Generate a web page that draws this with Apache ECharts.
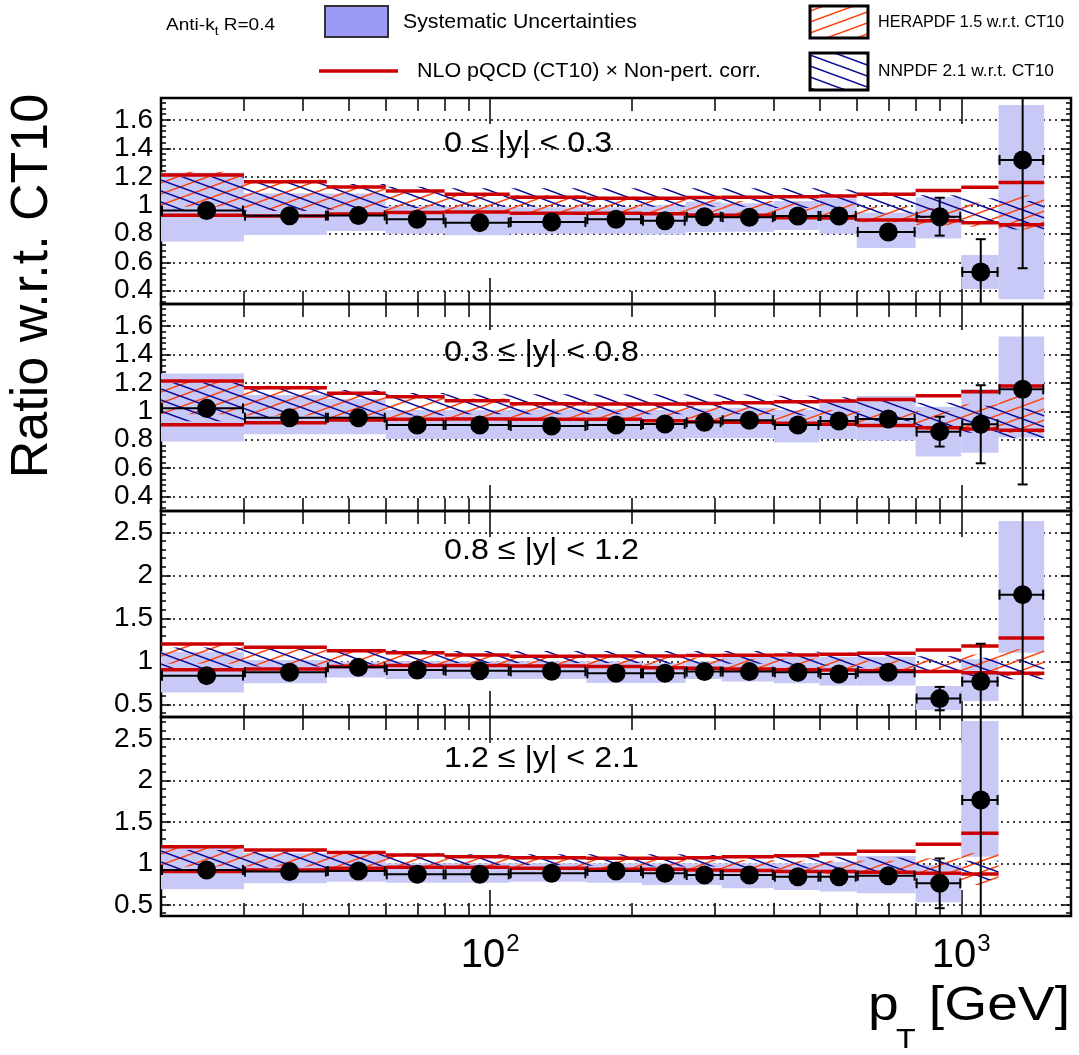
<!DOCTYPE html>
<html><head><meta charset="utf-8">
<script src="https://cdn.jsdelivr.net/npm/echarts@6/dist/echarts.min.js"></script>
<style>html,body{margin:0;padding:0;background:#fff}#c{width:1079px;height:1055px}</style>
</head><body><div id="c"></div>
<script>
// ---------------- DATA ----------------
const binEdges = [20, 30, 45, 60, 80, 110, 160, 210, 260, 310, 400, 500, 600, 800, 1000, 1200, 1500];
const xMajorTicks = [100, 1000];
const xMinorTicks = [20, 30, 40, 50, 60, 70, 80, 90, 200, 300, 400, 500, 600, 700, 800, 900];
const yMajorTicksNarrow = [0.4, 0.6, 0.8, 1, 1.2, 1.4, 1.6];
const yMajorTicksWide = [0.5, 1, 1.5, 2, 2.5];
const panelLabels = ['0 \u2264 |y| < 0.3', '0.3 \u2264 |y| < 0.8', '0.8 \u2264 |y| < 1.2', '1.2 \u2264 |y| < 2.1'];

// Panel 1: 0 <= |y| < 0.3
const ratio1   = [0.963, 0.927, 0.928, 0.902, 0.878, 0.883, 0.902, 0.892, 0.920, 0.916, 0.925, 0.925, 0.813, 0.920, 0.532, 1.318];
const stat1    = [0.010, 0.008, 0.010, 0.010, 0.010, 0.008, 0.008, 0.010, 0.010, 0.010, 0.012, 0.015, 0.020, 0.133, 0.230, 0.760];
const sysLo1   = [0.745, 0.792, 0.820, 0.800, 0.790, 0.800, 0.800, 0.794, 0.810, 0.815, 0.827, 0.800, 0.700, 0.766, 0.413, 0.340];
const sysHi1   = [1.230, 1.085, 1.082, 0.995, 0.990, 0.986, 0.986, 1.000, 1.026, 1.014, 1.030, 1.050, 0.950, 1.056, 0.651, 1.704];
const ct10Hi1  = [1.213, 1.166, 1.129, 1.100, 1.077, 1.056, 1.049, 1.049, 1.054, 1.056, 1.060, 1.065, 1.077, 1.103, 1.126, 1.159];
const ct10Lo1  = [0.930, 0.925, 0.939, 0.949, 0.953, 0.944, 0.944, 0.940, 0.932, 0.930, 0.913, 0.910, 0.897, 0.892, 0.878, 0.864];
const heraLo1  = [0.990, 0.970, 0.960, 0.960, 0.950, 0.950, 0.940, 0.930, 0.920, 0.920, 0.910, 0.900, 0.880, 0.860, 0.850, 0.830];
const heraHi1  = [1.235, 1.180, 1.140, 1.100, 1.080, 1.070, 1.060, 1.050, 1.040, 1.030, 1.020, 1.010, 0.990, 0.980, 1.020, 1.070];
const nnpdfLo1 = [0.960, 0.960, 0.970, 0.980, 0.990, 0.990, 0.990, 0.990, 0.990, 0.990, 0.980, 0.970, 0.940, 0.910, 0.870, 0.830];
const nnpdfHi1 = [1.200, 1.170, 1.150, 1.130, 1.120, 1.120, 1.120, 1.120, 1.120, 1.120, 1.120, 1.110, 1.090, 1.070, 1.050, 1.030];

// Panel 2: 0.3 <= |y| < 0.8
const ratio2   = [1.021, 0.955, 0.955, 0.904, 0.904, 0.897, 0.904, 0.911, 0.923, 0.937, 0.904, 0.932, 0.946, 0.857, 0.909, 1.155];
const stat2    = [0.010, 0.008, 0.008, 0.008, 0.008, 0.008, 0.010, 0.010, 0.010, 0.010, 0.012, 0.015, 0.025, 0.105, 0.275, 0.670];
const sysLo2   = [0.787, 0.838, 0.838, 0.805, 0.805, 0.805, 0.805, 0.805, 0.810, 0.810, 0.780, 0.805, 0.794, 0.681, 0.709, 0.815];
const sysHi2   = [1.267, 1.115, 1.087, 1.010, 1.010, 1.014, 1.016, 1.010, 1.020, 1.026, 1.010, 1.068, 1.108, 1.033, 1.157, 1.527];
const ct10Hi2  = [1.213, 1.166, 1.127, 1.103, 1.075, 1.054, 1.052, 1.052, 1.056, 1.061, 1.068, 1.073, 1.084, 1.110, 1.138, 1.178];
const ct10Lo2  = [0.906, 0.920, 0.939, 0.944, 0.946, 0.944, 0.944, 0.934, 0.927, 0.923, 0.916, 0.909, 0.900, 0.885, 0.876, 0.866];
const heraLo2  = [0.980, 0.970, 0.960, 0.950, 0.950, 0.950, 0.940, 0.930, 0.920, 0.920, 0.910, 0.900, 0.890, 0.870, 0.860, 0.850];
const heraHi2  = [1.220, 1.180, 1.140, 1.110, 1.090, 1.070, 1.060, 1.050, 1.040, 1.030, 1.020, 1.010, 1.000, 1.000, 1.050, 1.110];
const nnpdfLo2 = [0.930, 0.950, 0.960, 0.970, 0.980, 0.980, 0.980, 0.980, 0.980, 0.980, 0.970, 0.960, 0.930, 0.890, 0.850, 0.810];
const nnpdfHi2 = [1.200, 1.170, 1.150, 1.130, 1.120, 1.120, 1.120, 1.120, 1.120, 1.120, 1.110, 1.100, 1.080, 1.060, 1.040, 1.020];

// Panel 3: 0.8 <= |y| < 1.2
const ratio3   = [0.833, 0.872, 0.930, 0.899, 0.891, 0.884, 0.860, 0.860, 0.880, 0.880, 0.872, 0.853, 0.872, 0.566, 0.764, 1.775];
const stat3    = [0.010, 0.008, 0.008, 0.008, 0.008, 0.008, 0.010, 0.010, 0.010, 0.012, 0.012, 0.015, 0.025, 0.136, 0.440, 1.500];
const sysLo3   = [0.636, 0.744, 0.810, 0.795, 0.795, 0.795, 0.748, 0.748, 0.795, 0.764, 0.744, 0.717, 0.717, 0.434, 0.539, 1.100];
const sysHi3   = [1.112, 1.015, 0.996, 1.000, 1.000, 1.000, 1.000, 0.977, 1.000, 1.054, 1.054, 1.054, 1.054, 0.713, 1.023, 2.632];
const ct10Hi3  = [1.202, 1.163, 1.124, 1.100, 1.074, 1.058, 1.062, 1.062, 1.066, 1.070, 1.074, 1.081, 1.093, 1.132, 1.178, 1.271];
const ct10Lo3  = [0.903, 0.911, 0.938, 0.950, 0.950, 0.946, 0.938, 0.926, 0.919, 0.911, 0.903, 0.900, 0.891, 0.880, 0.868, 0.860];
const heraLo3  = [0.970, 0.960, 0.950, 0.950, 0.950, 0.950, 0.940, 0.930, 0.920, 0.920, 0.910, 0.900, 0.890, 0.870, 0.840, 0.820];
const heraHi3  = [1.200, 1.170, 1.130, 1.100, 1.080, 1.070, 1.060, 1.050, 1.040, 1.030, 1.030, 1.020, 1.010, 1.020, 1.080, 1.140];
const nnpdfLo3 = [0.920, 0.940, 0.960, 0.970, 0.980, 0.980, 0.980, 0.970, 0.970, 0.970, 0.960, 0.950, 0.920, 0.880, 0.830, 0.790];
const nnpdfHi3 = [1.160, 1.150, 1.140, 1.130, 1.120, 1.120, 1.120, 1.120, 1.120, 1.120, 1.110, 1.100, 1.080, 1.060, 1.040, 1.020];

// Panel 4: 1.2 <= |y| < 2.1 (15 bins, up to 1200 GeV)
const ratio4   = [0.920, 0.900, 0.908, 0.867, 0.867, 0.880, 0.908, 0.880, 0.859, 0.859, 0.839, 0.839, 0.851, 0.759, 1.763];
const stat4    = [0.008, 0.008, 0.008, 0.008, 0.008, 0.008, 0.010, 0.010, 0.010, 0.012, 0.015, 0.020, 0.030, 0.300, 1.500];
const sysLo4   = [0.687, 0.759, 0.779, 0.767, 0.767, 0.779, 0.767, 0.739, 0.739, 0.699, 0.679, 0.659, 0.639, 0.530, 1.080];
const sysHi4   = [1.220, 1.120, 1.100, 1.000, 1.000, 1.000, 1.000, 1.000, 1.000, 1.000, 1.000, 1.020, 1.088, 0.980, 2.715];
const ct10Hi4  = [1.200, 1.161, 1.129, 1.100, 1.080, 1.068, 1.060, 1.060, 1.068, 1.080, 1.092, 1.112, 1.145, 1.229, 1.361];
const ct10Lo4  = [0.900, 0.920, 0.940, 0.952, 0.952, 0.940, 0.928, 0.928, 0.920, 0.912, 0.900, 0.900, 0.892, 0.880, 0.872];
const heraLo4  = [0.960, 0.960, 0.950, 0.950, 0.950, 0.940, 0.930, 0.920, 0.910, 0.900, 0.890, 0.870, 0.850, 0.820, 0.740];
const heraHi4  = [1.210, 1.170, 1.130, 1.100, 1.080, 1.070, 1.060, 1.050, 1.040, 1.040, 1.030, 1.030, 1.030, 1.060, 1.120];
const nnpdfLo4 = [0.920, 0.940, 0.960, 0.970, 0.980, 0.980, 0.970, 0.960, 0.960, 0.950, 0.940, 0.920, 0.900, 0.860, 0.800];
const nnpdfHi4 = [1.160, 1.140, 1.130, 1.120, 1.110, 1.110, 1.110, 1.110, 1.100, 1.100, 1.090, 1.080, 1.070, 1.050, 1.030];

// ---------------- LAYOUT / STYLE ----------------
const FONT = '"Liberation Sans", Arial, Helvetica, sans-serif';
const X_MIN = 20, X_MAX = 1710;
const panelBoxes = [
  {top: 98,  height: 206, ymin: 0.307, ymax: 1.753, majors: yMajorTicksNarrow, minorStep: 0.04},
  {top: 304, height: 207, ymin: 0.298, ymax: 1.756, majors: yMajorTicksNarrow, minorStep: 0.04},
  {top: 511, height: 206, ymin: 0.352, ymax: 2.748, majors: yMajorTicksWide,   minorStep: 0.1},
  {top: 717, height: 199, ymin: 0.365, ymax: 2.763, majors: yMajorTicksWide,   minorStep: 0.1}
];
const panelData = [
  {ratio: ratio1, stat: stat1, sysLo: sysLo1, sysHi: sysHi1, ctLo: ct10Lo1, ctHi: ct10Hi1, heraLo: heraLo1, heraHi: heraHi1, nnLo: nnpdfLo1, nnHi: nnpdfHi1},
  {ratio: ratio2, stat: stat2, sysLo: sysLo2, sysHi: sysHi2, ctLo: ct10Lo2, ctHi: ct10Hi2, heraLo: heraLo2, heraHi: heraHi2, nnLo: nnpdfLo2, nnHi: nnpdfHi2},
  {ratio: ratio3, stat: stat3, sysLo: sysLo3, sysHi: sysHi3, ctLo: ct10Lo3, ctHi: ct10Hi3, heraLo: heraLo3, heraHi: heraHi3, nnLo: nnpdfLo3, nnHi: nnpdfHi3},
  {ratio: ratio4, stat: stat4, sysLo: sysLo4, sysHi: sysHi4, ctLo: ct10Lo4, ctHi: ct10Hi4, heraLo: heraLo4, heraHi: heraHi4, nnLo: nnpdfLo4, nnHi: nnpdfHi4}
];
const SYS_COLOR = '#c9c9f8';
const SYS_LEGEND_COLOR = '#9b9bf7';
const CT10_COLOR = '#cc0000';
const HERA_COLOR = '#ff4411';
const NNPDF_COLOR = '#0c0c96';

function hatchImage(color, down) {
  const W = 30, H = 11;
  const c = document.createElement('canvas'); c.width = W; c.height = H;
  const g = c.getContext('2d'); g.strokeStyle = color; g.lineWidth = 1.6;
  for (let j = -1; j <= 1; j++) {
    g.beginPath();
    if (down) { g.moveTo(-W, -H + j * H); g.lineTo(2 * W, 2 * H + j * H); }
    else { g.moveTo(-W, 2 * H + j * H); g.lineTo(2 * W, -H + j * H); }
    g.stroke();
  }
  return c;
}
const heraPattern = {image: hatchImage(HERA_COLOR, false), repeat: 'repeat'};
const nnpdfPattern = {image: hatchImage(NNPDF_COLOR, true), repeat: 'repeat'};

function minorTicks(lo, hi, step) {
  const out = [];
  for (let k = Math.ceil(lo / step - 1e-9); k * step <= hi + 1e-9; k++) out.push(+(k * step).toFixed(4));
  return out;
}
function clipRect(r, cs) {
  const x1 = Math.max(Math.min(r.x1, r.x2), cs.x), x2 = Math.min(Math.max(r.x1, r.x2), cs.x + cs.width);
  const y1 = Math.max(Math.min(r.y1, r.y2), cs.y), y2 = Math.min(Math.max(r.y1, r.y2), cs.y + cs.height);
  if (x2 <= x1 || y2 <= y1) return null;
  return {x: x1, y: y1, width: x2 - x1, height: y2 - y1};
}
function rectRenderer(fill) {
  return function (params, api) {
    const a = api.coord([api.value(0), api.value(3)]);
    const b = api.coord([api.value(1), api.value(2)]);
    const shape = clipRect({x1: a[0], x2: b[0], y1: a[1], y2: b[1]}, params.coordSys);
    if (!shape) return null;
    return {type: 'rect', shape: shape, style: {fill: fill}, silent: true};
  };
}
function ct10Renderer(params, api) {
  const lo = api.value(2), hi = api.value(3);
  const a = api.coord([api.value(0), hi]), b = api.coord([api.value(1), hi]);
  const c = api.coord([api.value(0), lo]), d = api.coord([api.value(1), lo]);
  const st = {stroke: CT10_COLOR, lineWidth: 3.5, fill: null};
  return {type: 'group', children: [
    {type: 'line', shape: {x1: a[0], y1: a[1], x2: b[0], y2: b[1]}, style: st},
    {type: 'line', shape: {x1: c[0], y1: c[1], x2: d[0], y2: d[1]}, style: st}
  ]};
}
function errRenderer(params, api) {
  const cs = params.coordSys;
  const xlo = api.value(0), xhi = api.value(1), v = api.value(2), e = api.value(3);
  const xc = (xlo + xhi) / 2;
  const l = api.coord([xlo, v]), r = api.coord([xhi, v]);
  const t = api.coord([xc, v + e]), b = api.coord([xc, v - e]);
  const st = {stroke: '#000', lineWidth: 2, fill: null};
  const ch = [];
  ch.push({type: 'line', shape: {x1: l[0], y1: l[1], x2: r[0], y2: r[1]}, style: st});
  ch.push({type: 'line', shape: {x1: l[0] + 1, y1: l[1] - 5, x2: l[0] + 1, y2: l[1] + 5}, style: st});
  ch.push({type: 'line', shape: {x1: r[0] - 1, y1: r[1] - 5, x2: r[0] - 1, y2: r[1] + 5}, style: st});
  const top = Math.max(t[1], cs.y), bot = Math.min(b[1], cs.y + cs.height);
  ch.push({type: 'line', shape: {x1: t[0], y1: top, x2: b[0], y2: bot}, style: st});
  if (t[1] >= cs.y) ch.push({type: 'line', shape: {x1: t[0] - 5, y1: t[1], x2: t[0] + 5, y2: t[1]}, style: st});
  if (b[1] <= cs.y + cs.height) ch.push({type: 'line', shape: {x1: b[0] - 5, y1: b[1], x2: b[0] + 5, y2: b[1]}, style: st});
  return {type: 'group', children: ch};
}

const grids = [], xAxes = [], yAxes = [], series = [];
const tickStyle = {color: '#000', width: 1.5};
panelBoxes.forEach(function (pb, p) {
  grids.push({left: 161, width: 910, top: pb.top, height: pb.height, show: true, borderColor: '#000', borderWidth: 2.5,
              backgroundColor: 'rgba(0,0,0,0)', containLabel: false, outerBoundsMode: 'none'});
  const xb = {type: 'log', logBase: 10, gridIndex: p, min: X_MIN, max: X_MAX, axisLine: {show: false}, splitLine: {show: false}, axisLabel: {show: false}};
  const xLab = (p === 3) ? {
    show: true, customValues: xMajorTicks, margin: 16,
    formatter: function (v) { return '{b|10}{s|' + Math.round(Math.log10(v)) + '}'; },
    rich: {b: {fontSize: 40, fontFamily: FONT, color: '#000', lineHeight: 46},
           s: {fontSize: 24, fontFamily: FONT, color: '#000', padding: [0, 0, 24, 1]}}
  } : {show: false};
  xAxes.push(Object.assign({}, xb, {position: 'bottom', axisTick: {show: true, inside: true, length: 26, customValues: xMajorTicks, lineStyle: tickStyle}, axisLabel: xLab}));
  xAxes.push(Object.assign({}, xb, {position: 'bottom', axisTick: {show: true, inside: true, length: 13, customValues: xMinorTicks, lineStyle: tickStyle}}));
  xAxes.push(Object.assign({}, xb, {position: 'top', axisTick: {show: true, inside: true, length: 26, customValues: xMajorTicks, lineStyle: tickStyle}}));
  xAxes.push(Object.assign({}, xb, {position: 'top', axisTick: {show: true, inside: true, length: 13, customValues: xMinorTicks, lineStyle: tickStyle}}));

  const minors = minorTicks(pb.ymin, pb.ymax, pb.minorStep);
  const yb = {type: 'value', gridIndex: p, min: pb.ymin, max: pb.ymax, axisLine: {show: false}, splitLine: {show: false}, axisLabel: {show: false}};
  yAxes.push(Object.assign({}, yb, {position: 'left',
    axisTick: {show: true, inside: true, length: 10, customValues: pb.majors, lineStyle: tickStyle},
    axisLabel: {show: true, customValues: pb.majors, fontSize: 28, fontFamily: FONT, color: '#000', margin: 8},
    splitLine: {show: true, lineStyle: {color: '#000', width: 1.5, type: [2, 4]}}}));
  yAxes.push(Object.assign({}, yb, {position: 'left', axisTick: {show: true, inside: true, length: 5, customValues: minors, lineStyle: tickStyle}}));
  yAxes.push(Object.assign({}, yb, {position: 'right', axisTick: {show: true, inside: true, length: 10, customValues: pb.majors, lineStyle: tickStyle}}));
  yAxes.push(Object.assign({}, yb, {position: 'right', axisTick: {show: true, inside: true, length: 5, customValues: minors, lineStyle: tickStyle}}));

  const d = panelData[p];
  const xi = 4 * p, yi = 4 * p;
  const n = d.ratio.length;
  const sysData = [], heraData = [], nnData = [], ctData = [], errData = [], ptData = [];
  for (let i = 0; i < n; i++) {
    const lo = binEdges[i], hi = binEdges[i + 1];
    sysData.push([lo, hi, d.sysLo[i], d.sysHi[i]]);
    heraData.push([lo, hi, d.heraLo[i], d.heraHi[i]]);
    nnData.push([lo, hi, d.nnLo[i], d.nnHi[i]]);
    ctData.push([lo, hi, d.ctLo[i], d.ctHi[i]]);
    errData.push([lo, hi, d.ratio[i], d.stat[i]]);
    ptData.push([(lo + hi) / 2, d.ratio[i]]);
  }
  const common = {type: 'custom', xAxisIndex: xi, yAxisIndex: yi, silent: true, animation: false};
  series.push(Object.assign({}, common, {name: 'Systematic Uncertainties', renderItem: rectRenderer(SYS_COLOR), data: sysData, encode: {x: [0, 1], y: [2, 3]}}));
  series.push(Object.assign({}, common, {name: 'HERAPDF 1.5 w.r.t. CT10', renderItem: rectRenderer(heraPattern), data: heraData, encode: {x: [0, 1], y: [2, 3]}}));
  series.push(Object.assign({}, common, {name: 'NNPDF 2.1 w.r.t. CT10', renderItem: rectRenderer(nnpdfPattern), data: nnData, encode: {x: [0, 1], y: [2, 3]}}));
  series.push(Object.assign({}, common, {name: 'NLO pQCD (CT10) x Non-pert. corr.', renderItem: ct10Renderer, data: ctData, encode: {x: [0, 1], y: [2, 3]}}));
  series.push(Object.assign({}, common, {name: 'Data stat', renderItem: errRenderer, data: errData, encode: {x: [0, 1], y: [2]}}));
  series.push({type: 'scatter', name: 'Data', xAxisIndex: xi, yAxisIndex: yi, data: ptData, symbol: 'circle', symbolSize: 19,
               itemStyle: {color: '#000', opacity: 1}, silent: true, animation: false, z: 5});
});

// ---------------- TEXT / LEGEND ----------------
const mctx = document.createElement('canvas').getContext('2d');
function fitScale(text, size, target) {
  mctx.font = size + 'px "Liberation Sans"';
  return target / mctx.measureText(text).width;
}
const graphics = [];
const lblScale = fitScale(panelLabels[2], 30, 195);
const lblY = [144, 353, 551, 759];
panelLabels.forEach(function (t, p) {
  graphics.push({type: 'text', x: 444, y: lblY[p], scaleX: lblScale, z: 100,
    style: {text: t, fontSize: 30, fontFamily: FONT, fill: '#000', align: 'left', verticalAlign: 'middle'}});
});
// Y title
graphics.push({type: 'text', x: 33, y: 286, rotation: Math.PI / 2, z: 100,
  style: {text: 'Ratio w.r.t. CT10', fontSize: 52, fontFamily: FONT, fill: '#000', align: 'center', verticalAlign: 'middle'}});
// X title
graphics.push({type: 'text', x: 868, y: 1007, scaleX: 1.15, z: 100,
  style: {text: 'p', fontSize: 48, fontFamily: FONT, fill: '#000', align: 'left', verticalAlign: 'middle'}});
graphics.push({type: 'text', x: 896, y: 1040, scaleX: 1.15, z: 100,
  style: {text: 'T', fontSize: 28, fontFamily: FONT, fill: '#000', align: 'left', verticalAlign: 'middle'}});
graphics.push({type: 'text', x: 1070, y: 1007, scaleX: 1.15, z: 100,
  style: {text: '[GeV]', fontSize: 48, fontFamily: FONT, fill: '#000', align: 'right', verticalAlign: 'middle'}});
// Legend
graphics.push({type: 'text', x: 166, y: 25, scaleX: 1.12, z: 100,
  style: {text: '{a|Anti-k}{s|t}{a| R=0.4}', fontFamily: FONT, fill: '#000', align: 'left', verticalAlign: 'middle',
    rich: {a: {fontSize: 17, fontFamily: FONT, fill: '#000'}, s: {fontSize: 12, fontFamily: FONT, fill: '#000', padding: [14, 0, 0, 0]}}}});
graphics.push({type: 'rect', shape: {x: 325, y: 6, width: 63, height: 31}, z: 100,
  style: {fill: SYS_LEGEND_COLOR, stroke: '#333', lineWidth: 2}});
graphics.push({type: 'text', x: 403, y: 22, scaleX: fitScale('Systematic Uncertainties', 20, 234), z: 100,
  style: {text: 'Systematic Uncertainties', fontSize: 20, fontFamily: FONT, fill: '#000', align: 'left', verticalAlign: 'middle'}});
graphics.push({type: 'line', shape: {x1: 319, y1: 71, x2: 398, y2: 71}, z: 100,
  style: {stroke: CT10_COLOR, lineWidth: 3.5}});
graphics.push({type: 'text', x: 417, y: 71, scaleX: fitScale('NLO pQCD (CT10) \u00d7 Non-pert. corr.', 20, 344), z: 100,
  style: {text: 'NLO pQCD (CT10) \u00d7 Non-pert. corr.', fontSize: 20, fontFamily: FONT, fill: '#000', align: 'left', verticalAlign: 'middle'}});
graphics.push({type: 'rect', shape: {x: 810, y: 6, width: 58, height: 32}, z: 100,
  style: {fill: heraPattern, stroke: '#000', lineWidth: 3}});
graphics.push({type: 'text', x: 878, y: 23, scaleX: fitScale('HERAPDF 1.5 w.r.t. CT10', 16, 186), z: 100,
  style: {text: 'HERAPDF 1.5 w.r.t. CT10', fontSize: 16, fontFamily: FONT, fill: '#000', align: 'left', verticalAlign: 'middle'}});
graphics.push({type: 'rect', shape: {x: 810, y: 53, width: 58, height: 37}, z: 100,
  style: {fill: nnpdfPattern, stroke: '#000', lineWidth: 3}});
graphics.push({type: 'text', x: 878, y: 72, scaleX: fitScale('NNPDF 2.1 w.r.t. CT10', 16, 176), z: 100,
  style: {text: 'NNPDF 2.1 w.r.t. CT10', fontSize: 16, fontFamily: FONT, fill: '#000', align: 'left', verticalAlign: 'middle'}});

const chart = echarts.init(document.getElementById('c'), null, {renderer: 'canvas', width: 1079, height: 1055});
chart.setOption({
  animation: false,
  backgroundColor: '#fff',
  grid: grids,
  xAxis: xAxes,
  yAxis: yAxes,
  series: series,
  graphic: {elements: graphics}
});
</script>
</body></html>
